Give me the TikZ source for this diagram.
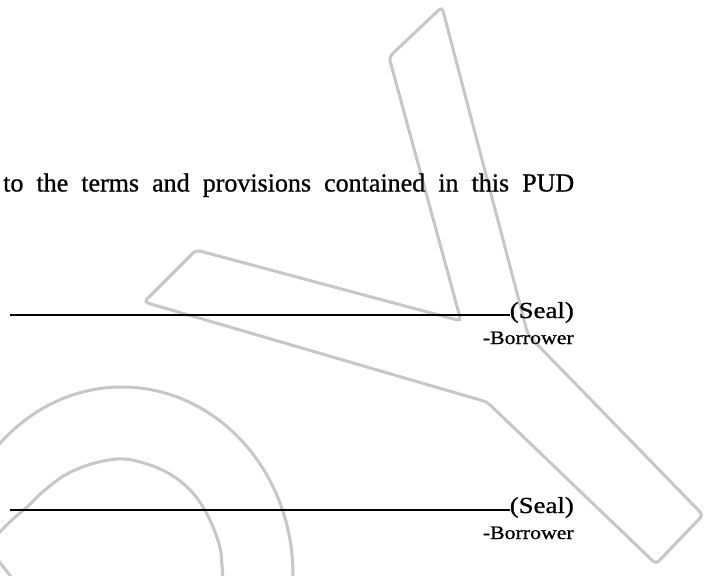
\documentclass[tikz,border=0pt]{standalone}
\usepackage{fontspec}
\setmainfont[FakeBold=0.8]{Liberation Serif}
\usetikzlibrary{positioning}
\tikzset{
  wm/.style={draw=black!22, line width=3pt, rounded corners=4pt},
  sigline/.style={line width=2pt},
  seal/.style={anchor=base east, inner sep=0pt},
}
\newcommand{\sealtxt}{\resizebox{64pt}{\height}{\fontsize{23}{27}\selectfont(Seal)}}
\newcommand{\borrtxt}{\resizebox{91pt}{\height}{\fontsize{19}{23}\selectfont -Borrower}}
\begin{document}
\begin{tikzpicture}[x=1pt,y=-1pt]
        \fill[white] (0,0) rectangle (708,575);
        \useasboundingbox (0,0) rectangle (708,575);
        \clip (0,0) rectangle (708,575);
        % watermark
        \draw[wm] (442,7) -- (389,57) -- (461,321) -- (196,250) -- (144,302) -- (487,402)
            -- (656,564) -- (703,515) -- (528,335) -- cycle;
        \draw[wm] (122,575) ellipse[x radius=171, y radius=188];
        \draw[wm] plot[smooth] coordinates {(-4,536) (12,520) (27,507) (45,490) (67,474) (95,463) (123,459)
            (150,465) (173,476) (190,490) (203,507) (213,527) (220,548) (222,565) (223,580)};
        \draw[wm] (-2,560) -- (12,578);
        % text
        \node[anchor=base west, inner sep=0pt] (terms) at (3,191.5)
            {\fontsize{26}{30}\selectfont\makebox[571pt][s]{to the terms and provisions contained in this PUD}};
        \node[seal] (seal1) at (574,318) {\sealtxt};
        \node[seal] (borr1) at (574,344) {\borrtxt};
        \node[seal] (seal2) at (574,513) {\sealtxt};
        \node[seal] (borr2) at (574,539) {\borrtxt};
        \coordinate (sig1) at (10,314.5);
        \coordinate (sig2) at (10,509.5);
        \draw[sigline] (sig1) -- (sig1 -| seal1.west);
        \draw[sigline] (sig2) -- (sig2 -| seal2.west);
\end{tikzpicture}
\end{document}
